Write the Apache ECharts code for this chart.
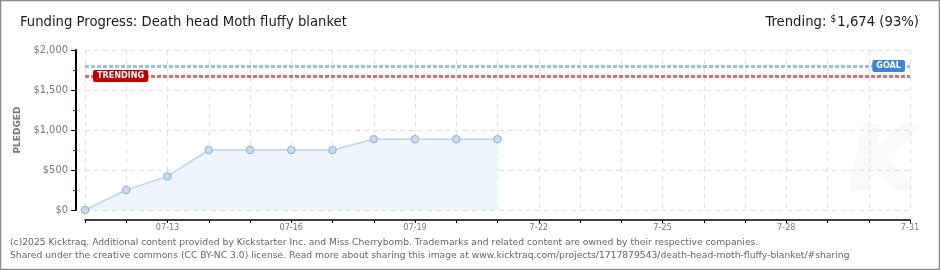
<!DOCTYPE html>
<html><head><meta charset="utf-8">
<script src="https://cdn.jsdelivr.net/npm/echarts@6/dist/echarts.min.js"></script>
<style>html,body{margin:0;padding:0;background:#fff}#c{width:940px;height:270px}</style>
</head><body><div id="c"></div>
<script>
const categories = ['07-11','07-12','07-13','07-14','07-15','07-16','07-17','07-18','07-19','07-20','07-21','07-22','07-23','07-24','07-25','07-26','07-27','07-28','07-29','07-30','07-31'];
const tickLabels = ['','','07-13','','','07-16','','','07-19','','','7-22','','','7-25','','','7-28','','','7-31'];
const pledged = [0, 250, 420, 750, 750, 750, 750, 885, 885, 885, 885];
const goal = 1800;
const trending = 1674;
const titleText = 'Funding Progress: Death head Moth fluffy blanket';
const footer1 = '(c)2025 Kicktraq. Additional content provided by Kickstarter Inc. and Miss Cherrybomb. Trademarks and related content are owned by their respective companies.';
const footer2 = 'Shared under the creative commons (CC BY-NC 3.0) license. Read more about sharing this image at www.kicktraq.com/projects/1717879543/death-head-moth-fluffy-blanket/#sharing';

const sqFont = 'DejaVu Sans Condensed';
const chart = echarts.init(document.getElementById('c'));
chart.setOption({
  animation: false,
  backgroundColor: '#fff',
  graphic: [
    {type:'rect', shape:{x:0.5,y:0.5,width:939,height:269}, style:{fill:'none', stroke:'#8a8a8a', lineWidth:1.5}, z:100},
    {type:'text', left:848, top:122, style:{text:'K', font:'italic bold 88px DejaVu Sans', fill:'#fafafa', stroke:'#f3f3f3', lineWidth:1}, z:-1},
    {type:'text', left:20, top:15, style:{text:titleText, font:'14.7px ' + sqFont, fill:'#1a1a1a'}},
    {type:'text', right:21, top:14, style:{text:'{l|Trending: }{s|$}{l|1,674 (93%)}', rich:{l:{font:'14.7px ' + sqFont, fill:'#1a1a1a', verticalAlign:'bottom'}, s:{font:'10px ' + sqFont, fill:'#1a1a1a', verticalAlign:'top', padding:[0,1,6,0]}}}},
    {type:'text', left:10, top:238, style:{text:footer1, font:'9.2px DejaVu Sans', fill:'#666'}},
    {type:'text', left:10, top:251, style:{text:footer2, font:'9.2px DejaVu Sans', fill:'#666'}}
  ],
  grid: {left:85, right:30, top:50, bottom:60},
  xAxis: {
    type:'category', data:categories, boundaryGap:false, offset:10,
    axisLine:{onZero:false, lineStyle:{color:'#000', width:1.5}},
    axisTick:{interval:0, length:3, lineStyle:{color:'#000'}},
    axisLabel:{interval:0, formatter:(v,i)=>tickLabels[i], color:'#777', fontSize:9, fontFamily:sqFont, margin:3},
    splitLine:{show:true, interval:0, lineStyle:{color:'#e2e2e2', type:[5,4]}}
  },
  yAxis: {
    type:'value', min:0, max:2000, interval:500, offset:9,
    name:'PLEDGED', nameLocation:'middle', nameGap:53, nameRotate:90,
    nameTextStyle:{color:'#777', fontSize:9, fontFamily:'DejaVu Sans', fontWeight:'bold'},
    axisLine:{show:true, onZero:false, lineStyle:{color:'#000', width:2}},
    axisTick:{show:true, length:5, lineStyle:{color:'#000', width:1}},
    minorTick:{show:true, splitNumber:2, length:3, lineStyle:{color:'#e00000'}},
    axisLabel:{color:'#777', fontSize:11, fontFamily:sqFont, margin:8,
      formatter:v=>'$'+v.toLocaleString('en-US')},
    splitLine:{show:true, lineStyle:{color:'#e2e2e2', type:[5,4]}}
  },
  series: [{
    type:'line', data:pledged, symbol:'circle', symbolSize:7.5,
    itemStyle:{color:'#c5ddf7', borderColor:'#98acc6', borderWidth:1},
    lineStyle:{color:'#b9d5f3', width:1.5},
    areaStyle:{color:'#eef5fd', opacity:1},
    markLine:{
      silent:true, symbol:'none', animation:false,
      data:[
        {yAxis:goal, lineStyle:{color:'#9bbfe6', width:3, type:[4,2]},
          label:{show:true, position:'insideEnd', distance:5, formatter:'GOAL', color:'#fff', backgroundColor:'#3d86d6', borderRadius:2, padding:[2,4,1,4], fontSize:9, fontFamily:sqFont, fontWeight:'bold'}},
        {yAxis:trending, lineStyle:{color:'#d46f6f', width:3, type:[4,2]},
          label:{show:true, position:'insideStart', distance:8, formatter:'TRENDING', color:'#fff', backgroundColor:'#c00000', borderRadius:2, padding:[2,4,1,4], fontSize:9, fontFamily:sqFont, fontWeight:'bold'}}
      ]
    }
  }]
});
</script></body></html>
